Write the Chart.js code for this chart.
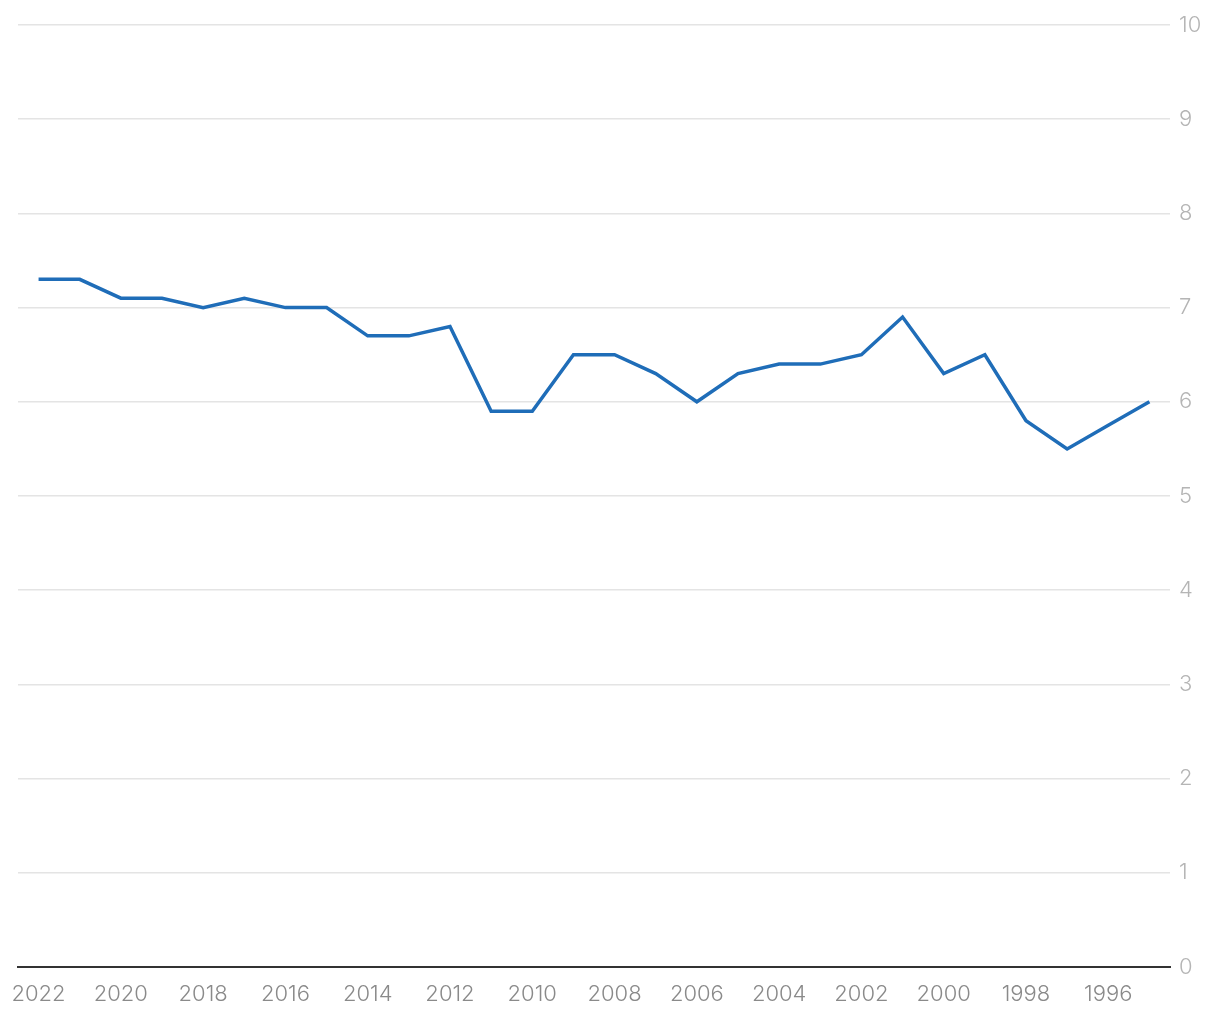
<!DOCTYPE html>
<html>
<head>
<meta charset="utf-8">
<script src="https://cdn.jsdelivr.net/npm/chart.js@4/dist/chart.umd.min.js"></script>
<style>
  html, body { margin: 0; padding: 0; background: #fff; }
  #wrap { width: 1220px; height: 1020px; }
</style>
</head>
<body>
<div id="wrap"><canvas id="chart"></canvas></div>
<script>
const years = ['2022', '2021', '2020', '2019', '2018', '2017', '2016', '2015', '2014', '2013',
  '2012', '2011', '2010', '2009', '2008', '2007', '2006', '2005', '2004', '2003',
  '2002', '2001', '2000', '1999', '1998', '1997', '1996', '1995'];
const values = [7.3, 7.3, 7.1, 7.1, 7.0, 7.1, 7.0, 7.0, 6.7, 6.7,
  6.8, 5.9, 5.9, 6.5, 6.5, 6.3, 6.0, 6.3, 6.4, 6.4,
  6.5, 6.9, 6.3, 6.5, 5.8, 5.5, 5.75, 6.0];
const yTicks = [0, 1, 2, 3, 4, 5, 6, 7, 8, 9, 10];

const ctx = document.getElementById('chart').getContext('2d');
const chart = new Chart(ctx, {
  type: 'line',
  data: {
    labels: years,
    datasets: [{
      data: values,
      borderColor: '#1f6db8',
      borderWidth: 3.5,
      pointRadius: 0,
      tension: 0,
      fill: false
    }]
  },
  options: {
    responsive: true,
    maintainAspectRatio: false,
    animation: false,
    layout: { padding: { left: 18, top: 25, right: 0, bottom: 0 } },
    plugins: { legend: { display: false }, tooltip: { enabled: false } },
    scales: {
      x: {
        type: 'category',
        offset: true,
        grid: { display: false, drawTicks: false },
        border: { display: true, color: '#333333', width: 2 },
        ticks: {
          autoSkip: false,
          maxRotation: 0,
          padding: 14,
          color: '#8a8a8a',
          font: { family: 'Inter', size: 22, weight: 300 },
          callback: function (val, i) { return i % 2 === 0 ? years[i] : ''; }
        },
        afterFit: function (scale) {
          scale.height = 53;
          scale.paddingLeft = 0;
          scale.paddingRight = 0;
        }
      },
      y: {
        position: 'right',
        min: 0,
        max: 10,
        afterBuildTicks: function (scale) { scale.ticks = yTicks.map(v => ({ value: v })); },
        grid: {
          drawTicks: false,
          lineWidth: 1.5,
          color: function (c) { return c.tick && c.tick.value === 0 ? 'rgba(0,0,0,0)' : '#e4e4e4'; }
        },
        border: { display: false },
        ticks: {
          padding: 9,
          color: '#b5b5b5',
          font: { family: 'Inter', size: 22, weight: 300 }
        },
        afterFit: function (scale) {
          scale.width = 50;
          scale.paddingTop = 0;
          scale.paddingBottom = 0;
        }
      }
    }
  }
});
</script>
</body>
</html>
